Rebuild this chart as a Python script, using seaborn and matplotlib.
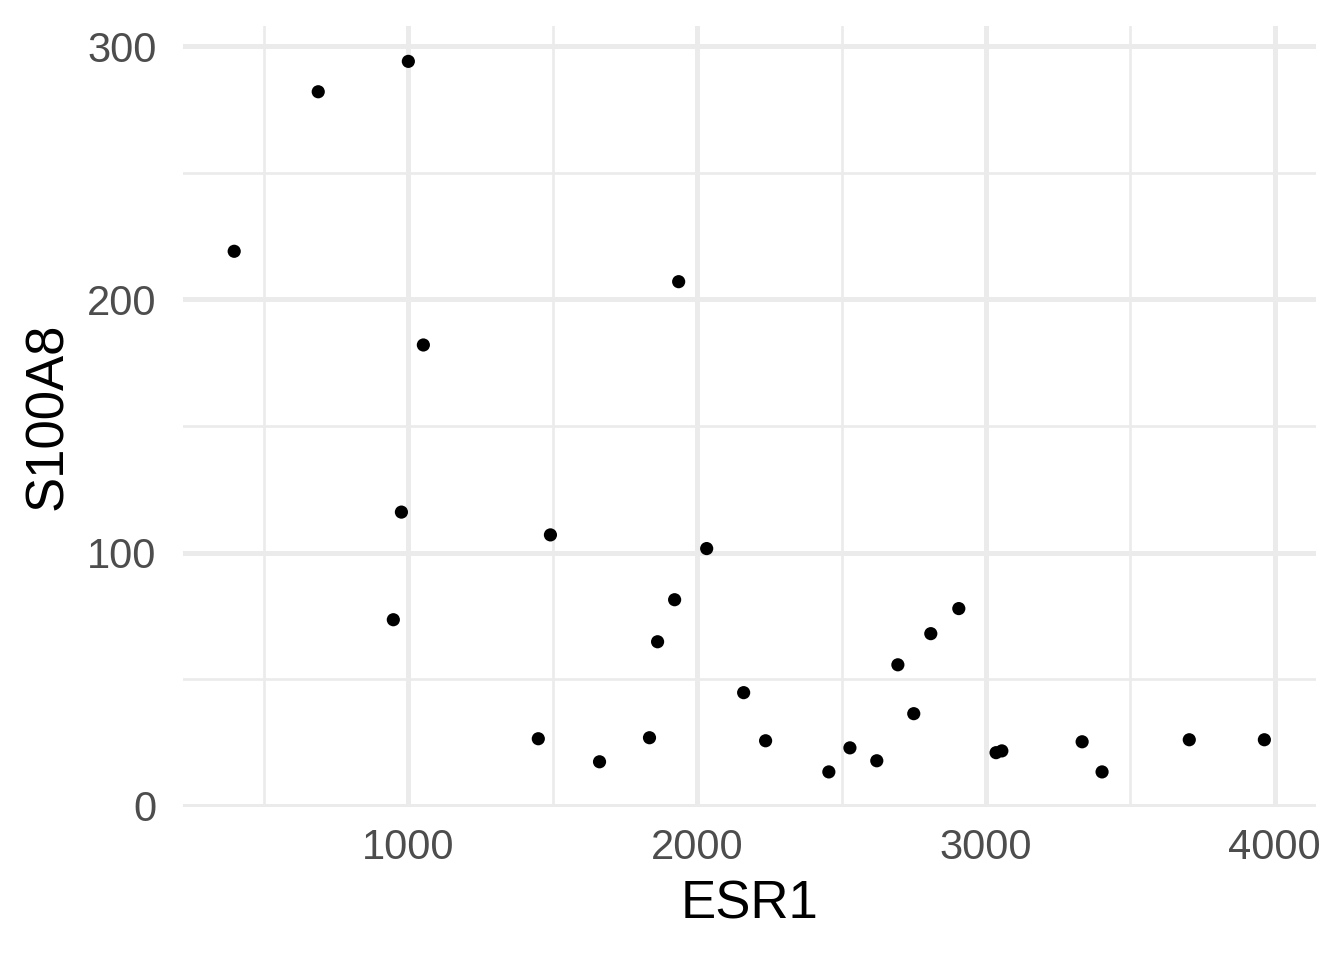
import matplotlib
matplotlib.use("Agg")
import matplotlib.pyplot as plt
from matplotlib.ticker import MultipleLocator
import seaborn as sns
import pandas as pd

# values
esr1 = [397, 688, 1000, 1052, 976, 948, 1492, 1450, 1662, 1936, 2033, 1922,
        1863, 1835, 2161, 2237, 2456, 2529, 2622, 2695, 2750, 2809, 2906,
        3035, 3055, 3333, 3402, 3704, 3964]
s100a8 = [219, 282, 294, 182, 116, 73.5, 107, 26.5, 17.4, 207, 101.6, 81.4,
          64.8, 26.9, 44.7, 25.7, 13.4, 22.9, 17.8, 55.7, 36.4, 68, 77.9,
          21, 21.7, 25.3, 13.4, 26.1, 26.1]

df = pd.DataFrame({"ESR1": esr1, "S100A8": s100a8})

sns.set_style("white")
plt.rcParams['font.family'] = ['Liberation Sans', 'DejaVu Sans']

fig = plt.figure(figsize=(13.44, 9.6), dpi=100)
ax = fig.add_axes([0.136, 0.159, 0.843, 0.814])

sns.scatterplot(data=df, x="ESR1", y="S100A8", color="black", s=90,
                edgecolor="none", ax=ax, zorder=3)

ax.set_xlim(219, 4142)
ax.set_ylim(-0.6, 308)
ax.xaxis.set_major_locator(MultipleLocator(1000))
ax.xaxis.set_minor_locator(MultipleLocator(500))
ax.yaxis.set_major_locator(MultipleLocator(100))
ax.yaxis.set_minor_locator(MultipleLocator(50))

ax.grid(which="major", color="#EBEBEB", linewidth=3.6)
ax.grid(which="minor", color="#EBEBEB", linewidth=1.9)
ax.set_axisbelow(True)
for sp in ax.spines.values():
    sp.set_visible(False)

ax.tick_params(which="both", length=0, labelsize=30, labelcolor="#4D4D4D")
ax.tick_params(axis="x", pad=15)
ax.tick_params(axis="y", pad=19)
ax.set_xlabel("ESR1", fontsize=38, color="black", labelpad=8)
ax.set_ylabel("S100A8", fontsize=38, color="black", labelpad=10)

fig.savefig("out.png", dpi=100)
